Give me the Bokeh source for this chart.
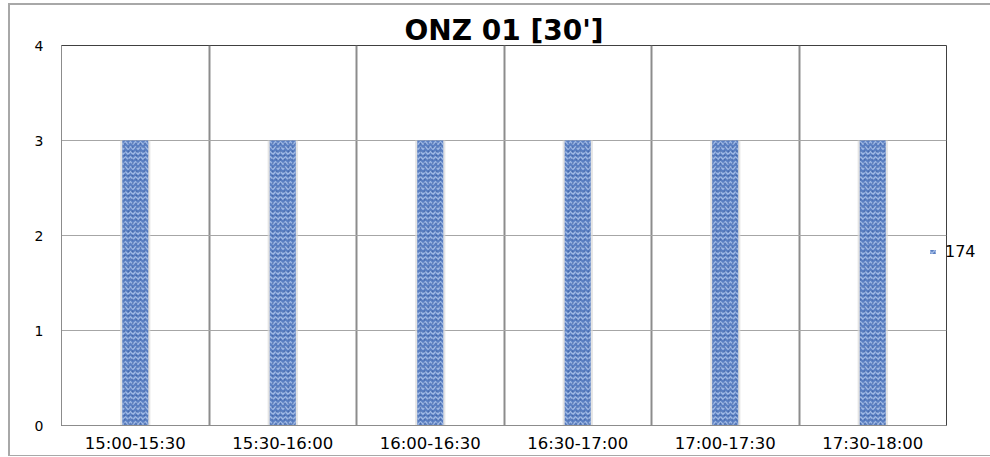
from bokeh.plotting import figure
from bokeh.models import FixedTicker, Legend, LegendItem, ColumnDataSource
from bokeh.embed import file_html
from bokeh.resources import INLINE

title_text = "ONZ 01 [30']"
categories = ["15:00-15:30", "15:30-16:00", "16:00-16:30", "16:30-17:00", "17:00-17:30", "17:30-18:00"]
values_174 = [3, 3, 3, 3, 3, 3]
series_name = "174"
y_ticks = [0, 1, 2, 3, 4]

xs = [i + 0.5 for i in range(len(categories))]
src = ColumnDataSource(dict(x=xs, top=values_174, cat=categories))

p = figure(frame_width=885, frame_height=380, output_backend="svg", toolbar_location=None,
           x_range=(0, len(categories)), y_range=(0, 4),
           min_border_left=51, min_border_right=42, min_border_top=40, min_border_bottom=30)
p.styles = {"margin-left": "8px", "margin-top": "3px",
            "border-left": "2px solid #a8a8a8", "border-top": "2px solid #a8a8a8",
            "border-bottom": "1px solid #a8a8a8"}
p.background_fill_color = "white"
p.border_fill_color = "white"
p.outline_line_color = "#404040"
p.outline_line_width = 1

p.title.text = title_text
p.title.align = "center"
p.title.text_font = "DejaVu Sans"
p.title.text_font_style = "bold"
p.title.text_font_size = "28px"
p.title.text_color = "#000000"
p.title.standoff = -3
p.title.offset = 0

# shadow
p.vbar(x="x", top="top", bottom=0, width=0.205, source=src, fill_color="#d8d8d8",
       fill_alpha=0.7, line_color=None)
bars = p.vbar(x="x", top="top", bottom=0, width=0.176, source=src,
              fill_color="#5a7fc2", line_color=None,
              hatch_pattern="horizontal_wave", hatch_color="#b3c9ee", hatch_scale=5,
              hatch_weight=1.5, hatch_alpha=0.8)
p.vbar(x="x", top="top", bottom=0, width=0.176, source=src,
       fill_alpha=0, line_color=None,
       hatch_pattern="dot", hatch_color="#34589c", hatch_scale=4,
       hatch_weight=1.5, hatch_alpha=0.55)

p.xaxis.ticker = FixedTicker(ticks=xs)
p.xaxis.major_label_overrides = {x: c for x, c in zip(xs, categories)}
p.xaxis.major_tick_out = 0
p.xaxis.major_tick_in = 0
p.xaxis.minor_tick_out = 0
p.xaxis.minor_tick_in = 0
p.xaxis.axis_line_color = "#8c8c8c"
p.xaxis.major_label_standoff = 8
p.xaxis.major_label_text_font = "DejaVu Sans"
p.xaxis.major_label_text_font_size = "16.5px"
p.xaxis.major_label_text_color = "#000000"

p.yaxis.ticker = FixedTicker(ticks=y_ticks)
p.yaxis.major_tick_out = 0
p.yaxis.major_tick_in = 0
p.yaxis.minor_tick_out = 0
p.yaxis.minor_tick_in = 0
p.yaxis.axis_line_color = "#8c8c8c"
p.yaxis.major_label_standoff = 18
p.yaxis.major_label_text_font = "DejaVu Sans"
p.yaxis.major_label_text_font_size = "14px"
p.yaxis.major_label_text_color = "#000000"

p.ygrid.ticker = FixedTicker(ticks=y_ticks)
p.ygrid.grid_line_color = "#a6a6a6"
p.ygrid.grid_line_width = 1
p.xgrid.ticker = FixedTicker(ticks=list(range(1, len(categories))))
p.xgrid.grid_line_color = "#8c8c8c"
p.xgrid.grid_line_width = 2

legend = Legend(items=[LegendItem(label=series_name, renderers=[bars])],
                location=(-17, 164), padding=0, margin=0, spacing=0,
                glyph_width=7, glyph_height=5, label_standoff=9, label_height=16,
                border_line_alpha=0, background_fill_alpha=0,
                label_text_font="DejaVu Sans", label_text_font_size="16px",
                label_text_color="#000000")
p.add_layout(legend, "right")

open("out.html", "w").write(file_html(p, INLINE))
